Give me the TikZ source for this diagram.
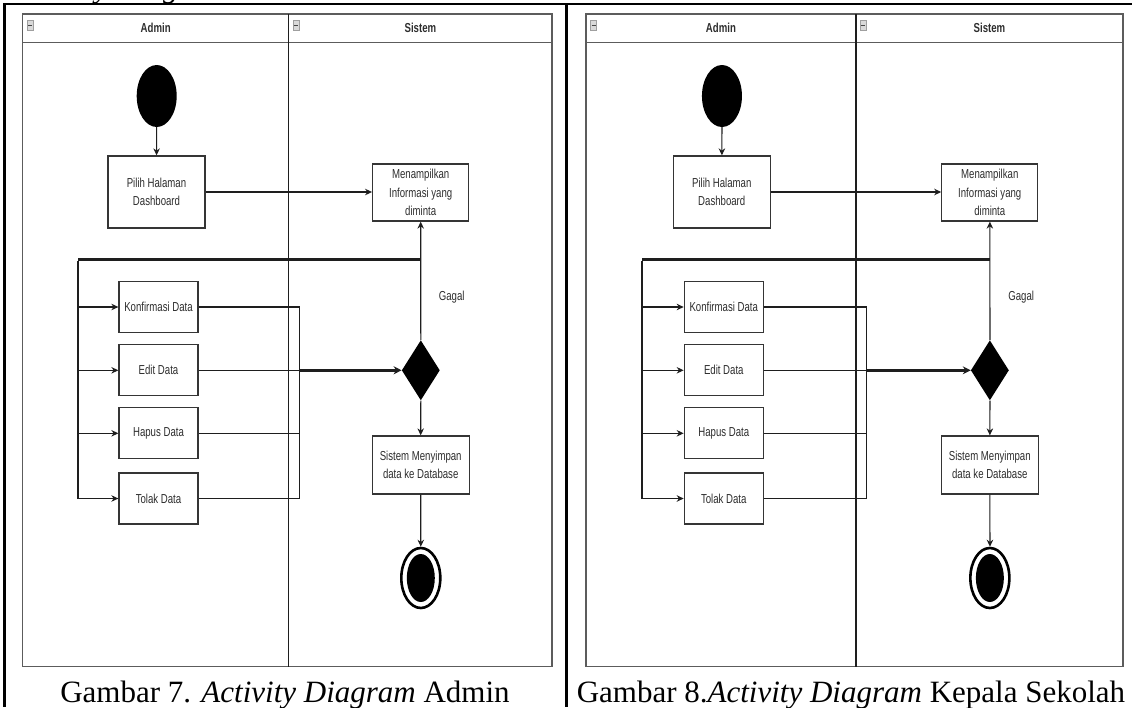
\documentclass[tikz,border=0pt]{standalone}
\usepackage{fontspec}
\setmainfont{Liberation Serif}
\newfontfamily\dgfont[FakeStretch=0.74]{Liberation Sans}
\usetikzlibrary{arrows.meta,shapes.geometric,calc}

\definecolor{lanegray}{HTML}{5C5C5C}
\definecolor{ink}{HTML}{1E1E1E}
\definecolor{txt}{HTML}{2E2E2E}

\tikzset{
  lane/.style={draw=lanegray, line width=1.3pt},
  divider/.style={draw=ink, line width=1.3pt},
  lanehead/.style={font=\dgfont\bfseries\fontsize{13}{16}\selectfont, text=txt, inner sep=0pt},
  lanebtn/.style={draw=gray!75, fill=gray!30, line width=0.6pt},
  actbox/.style={rectangle, draw=ink!90, line width=1.3pt, fill=white, inner sep=0pt,
    align=center, font=\dgfont\fontsize{13}{18.5}\selectfont, text=txt},
  startnode/.style={ellipse, fill=black, inner sep=0pt, minimum width=40pt, minimum height=62pt},
  endring/.style={ellipse, draw=black, line width=2.6pt, fill=white, inner sep=0pt,
    minimum width=39pt, minimum height=60pt},
  endcore/.style={ellipse, fill=black, inner sep=0pt, minimum width=28pt, minimum height=48pt},
  decision/.style={diamond, fill=black, inner sep=0pt, aspect=0.63,
    minimum width=38pt, minimum height=60pt},
  guard/.style={font=\dgfont\fontsize{13}{16}\selectfont, text=txt, inner sep=0pt},
  flow/.style={draw=ink, line width=1.1pt},
  arr/.style={flow, -{Stealth[length=7pt,width=6.5pt]}},
  spine/.style={draw=ink, line width=2pt},
  heavy/.style={draw=ink, line width=3pt},
  heavyarr/.style={heavy, -{Stealth[length=8pt,width=8pt]}},
  caption/.style={font=\fontsize{31}{36}\selectfont, inner sep=0pt, anchor=base},
  tablerule/.style={draw=black},
}

% One activity diagram with two swimlanes (Admin / Sistem).
% #1 = name prefix, #2 = scope options placing the panel
\newcommand\drawpanel[2]{%
\begin{scope}[#2]
  % swimlane frame, header band and lane divider
  \draw[lane] (22.7,14) rectangle (552,666.7);
  \draw[lane] (22.7,42.3) -- (552,42.3);
  \draw[divider] (288.7,14) -- (288.7,666.7);
  % collapse buttons in the lane headers
  \draw[lanebtn] (27.3,20.5) rectangle (33.3,30.5);
  \draw[gray!55!black, line width=0.8pt] (28.3,25.5) -- (32.3,25.5);
  \draw[lanebtn] (292.8,20.5) rectangle (298.8,30.5);
  \draw[gray!55!black, line width=0.8pt] (293.8,25.5) -- (297.8,25.5);
  \node[lanehead] (#1hadmin) at (155.7,28) {Admin};
  \node[lanehead] (#1hsis) at (420.4,28) {Sistem};

  % activity nodes
  \node[startnode] (#1start) at (156.7,96) {};
  \node[actbox, minimum width=97pt, minimum height=72pt] (#1pilih) at (156.5,192)
    {Pilih Halaman\\Dashboard};
  \node[actbox, minimum width=96pt, minimum height=57pt] (#1menam) at (420.7,192.5)
    {Menampilkan\\Informasi yang\\diminta};
  \node[actbox, minimum width=79pt, minimum height=51pt] (#1konf)  at (158.5,307)   {Konfirmasi Data};
  \node[actbox, minimum width=79pt, minimum height=51pt] (#1edit)  at (158.5,370.3) {Edit Data};
  \node[actbox, minimum width=79pt, minimum height=51pt] (#1hapus) at (158.5,433.3) {Hapus Data};
  \node[actbox, minimum width=79pt, minimum height=51pt] (#1tolak) at (158.5,498.5) {Tolak Data};
  \node[decision] (#1dec) at (420.8,370.3) {};
  \node[guard] (#1gagal) at (451.7,296.7) {Gagal};
  \node[actbox, minimum width=97pt, minimum height=58pt] (#1simpan) at (420.7,465)
    {Sistem Menyimpan\\data ke Database};
  \node[endring] (#1end) at (420.8,578) {};
  \node[endcore] (#1endin) at (420.8,578) {};

  % routing points
  \coordinate (#1j) at (420.7,259);
  \coordinate (#1c) at (78.3,259);
  \coordinate (#1b) at (78.3,498.5);
  \coordinate (#1m) at (299.3,370.3);

  % control flow
  \draw[arr] (#1start) -- (#1pilih);
  \draw[arr] (#1pilih.east) -- (#1pilih.east -| #1menam.west);
  \draw[arr] (#1dec.north) -- (#1menam.south);
  \draw[heavy] (#1j) -- (#1c);
  \draw[spine] ([yshift=-1.5pt]#1c) -- (#1b);
  \foreach \act in {konf,edit,hapus,tolak}
    \draw[arr] (#1c |- #1\act) -- (#1\act);
  \draw[flow] (#1konf.east) -- (#1konf.east -| #1m) -- (#1tolak.east -| #1m) -- (#1tolak.east);
  \draw[flow] (#1hapus.east) -- (#1hapus.east -| #1m);
  \draw[flow] (#1edit.east) -- (#1m);
  \draw[heavyarr] (#1m) -- (#1dec.west);
  \draw[arr] (#1dec.south) -- (#1simpan.north);
  \draw[arr] (#1simpan.south) -- (#1end.north);
\end{scope}}

\begin{document}
\begin{tikzpicture}[x=1pt, y=-1pt]
  \useasboundingbox (0,0) rectangle (1132,707);
  \fill[white] (0,0) rectangle (1132,707);
  \clip (0,0) rectangle (1132,707);

  % heading line above the table, mostly cut off
  \node[anchor=base west, font=\fontsize{31}{36}\selectfont\itshape, inner sep=0pt]
    (heading) at (14,-3) {Activity Diagram};

  % table rules
  \draw[tablerule, line width=1.6pt] (3.2,4) -- (1132,4);
  \draw[tablerule, line width=2.6pt] (4.5,4) -- (4.5,707);
  \draw[tablerule, line width=3pt] (566.7,4) -- (566.7,707);

  \drawpanel{L}{}
  \drawpanel{R}{xshift=563pt, xscale=1.0144}

  % figure captions
  \node[caption] (capL) at (285,702.5) {Gambar 7. \textit{Activity Diagram} Admin};
  \node[caption] (capR) at (851,702.5) {Gambar 8.\textit{Activity Diagram} Kepala Sekolah};
\end{tikzpicture}
\end{document}
